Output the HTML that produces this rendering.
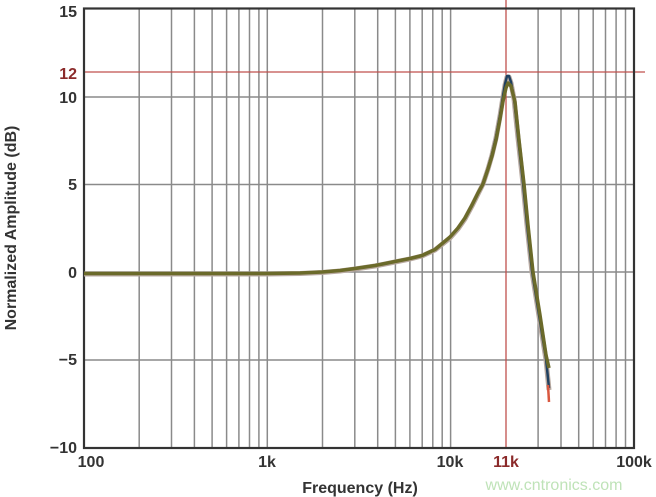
<!DOCTYPE html>
<html><head><meta charset="utf-8"><style>
html,body{margin:0;padding:0;background:#fff;width:656px;height:497px;overflow:hidden}
text{font-family:"Liberation Sans",sans-serif;font-weight:bold;fill:#333}
</style></head><body>
<svg width="656" height="497" viewBox="0 0 656 497" xmlns="http://www.w3.org/2000/svg">
<g stroke="#8a8a8a" stroke-width="1.5">
<line x1="139.2" y1="9" x2="139.2" y2="448"/><line x1="171.5" y1="9" x2="171.5" y2="448"/><line x1="194.4" y1="9" x2="194.4" y2="448"/><line x1="212.1" y1="9" x2="212.1" y2="448"/><line x1="226.6" y1="9" x2="226.6" y2="448"/><line x1="238.9" y1="9" x2="238.9" y2="448"/><line x1="249.5" y1="9" x2="249.5" y2="448"/><line x1="258.9" y1="9" x2="258.9" y2="448"/><line x1="267.3" y1="9" x2="267.3" y2="448"/>
<line x1="322.5" y1="9" x2="322.5" y2="448"/><line x1="354.8" y1="9" x2="354.8" y2="448"/><line x1="377.7" y1="9" x2="377.7" y2="448"/><line x1="395.4" y1="9" x2="395.4" y2="448"/><line x1="409.9" y1="9" x2="409.9" y2="448"/><line x1="422.2" y1="9" x2="422.2" y2="448"/><line x1="432.8" y1="9" x2="432.8" y2="448"/><line x1="442.2" y1="9" x2="442.2" y2="448"/><line x1="450.6" y1="9" x2="450.6" y2="448"/>
<line x1="538.1" y1="9" x2="538.1" y2="448"/><line x1="561" y1="9" x2="561" y2="448"/><line x1="578.7" y1="9" x2="578.7" y2="448"/><line x1="593.2" y1="9" x2="593.2" y2="448"/><line x1="605.5" y1="9" x2="605.5" y2="448"/><line x1="616.1" y1="9" x2="616.1" y2="448"/><line x1="625.5" y1="9" x2="625.5" y2="448"/>
<line x1="84" y1="97" x2="634" y2="97"/><line x1="84" y1="184.5" x2="634" y2="184.5"/><line x1="84" y1="272" x2="634" y2="272"/><line x1="84" y1="360" x2="634" y2="360"/>
</g>
<line x1="506" y1="0" x2="506" y2="448" stroke="#c0504d" stroke-width="1.3"/>
<line x1="84" y1="72" x2="645" y2="72" stroke="#c0504d" stroke-width="1.3"/>
<rect x="84" y="8.5" width="550" height="439.5" fill="none" stroke="#333" stroke-width="2.2"/>
<path d="M84,274 L267,274 L300,273.5 L322,272.5 L340,271 L355,269 L375,266 L395,262 L410,259 L422,256 L435,250 L450,238 L458,229 L465,219 L472,206 L478,194 L483,184 L488,169 L492,155 L496,138 L500,116 L503,97 L505,85 L507,77 L509,77 L511,83 L514,99 L518,138 L523,184 L527,225 L532,272 L539,316 L546,360 L549,390" fill="none" stroke="#b8a9a0" stroke-width="5" stroke-linejoin="round"/>
<path d="M84,273.5 L267,273.5 L300,273 L322,272 L340,270.5 L355,268.5 L375,265.5 L395,261.5 L410,258.5 L422,255.5 L435,249.5 L450,237 L458,228 L465,218 L472,205 L478,193 L483,183 L488,168 L492,154 L496,137 L500,115 L503,96 L505,84 L507,76 L509,76 L511,82 L514,98 L518,137 L523,183 L527,224 L532,271 L539,315 L546,359 L549,388" fill="none" stroke="#1f4060" stroke-width="2.5" stroke-linejoin="round"/>
<path d="M84,273.5 L267,273.5 L300,273 L322,272 L340,270.5 L355,268.5 L375,265.5 L395,261.5 L410,258.5 L422,255.5 L435,249.5 L450,237 L458,228 L465,218 L472,205 L478,193 L483,184 L488,169 L492,156 L496,140 L500,119 L503,101 L506,88 L508,83 L511,86 L515,102 L519,140 L524,184 L528,225 L533,272 L540,315 L546,355 L549,368" fill="none" stroke="#6b6a2a" stroke-width="3.5" stroke-linejoin="round"/>
<path d="M548,385 L549,402" stroke="#d9573f" stroke-width="2.5"/>
<g font-size="16" text-anchor="end">
<text x="77" y="17">15</text>
<text x="77" y="79" style="fill:#8b2a2a">12</text>
<text x="77" y="103">10</text>
<text x="77" y="190">5</text>
<text x="77" y="278">0</text>
<text x="77" y="365">−5</text>
<text x="77" y="453">−10</text>
</g>
<g font-size="16" text-anchor="middle">
<text x="91" y="467">100</text>
<text x="267" y="467">1k</text>
<text x="450" y="467">10k</text>
<text x="506" y="467" style="fill:#8b2a2a">11k</text>
<text x="634" y="467">100k</text>
<text x="360" y="493" font-size="16">Frequency (Hz)</text>
<text transform="translate(16,228) rotate(-90)" font-size="16">Normalized Amplitude (dB)</text>
</g>
<text x="554" y="490" text-anchor="middle" font-size="16" style="fill:#bfe3b8;font-weight:normal">www.cntronics.com</text>
</svg>
</body></html>
